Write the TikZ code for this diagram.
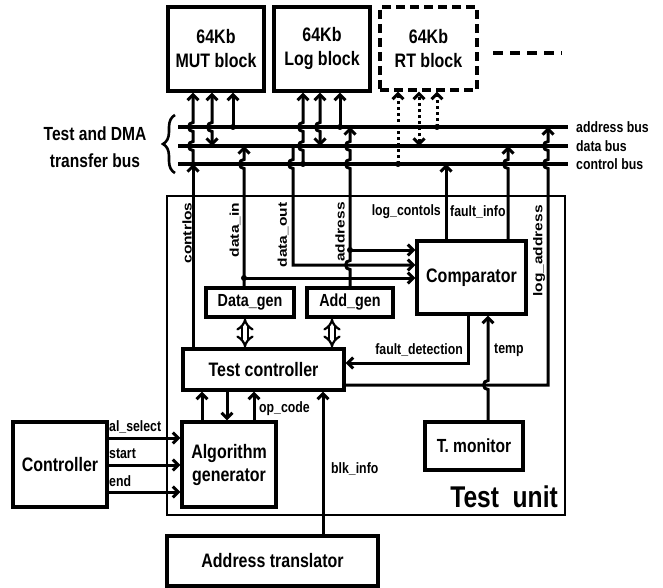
\documentclass[tikz,border=0pt]{standalone}
\usepackage{fontspec}
\setmainfont{Liberation Sans}[FakeStretch=0.82]
\newfontfamily\plainsans{Liberation Sans}
\usetikzlibrary{arrows.meta,decorations.pathreplacing}

% hops where a wire crosses a bus without joining it
\newcommand{\hopup}[2]{-- (#1,#2+4.5) arc[start angle=90,end angle=270,radius=4.5]}
\newcommand{\hopdn}[2]{-- (#1,#2-4.5) arc[start angle=270,end angle=90,radius=4.5]}
\newcommand{\sq}[1]{\scalebox{1}[0.82]{#1}}

\begin{document}
\begin{tikzpicture}[x=1pt,y=-1pt,
    box/.style={draw, fill=white, line width=3.2, inner sep=0, align=center,
      font=\bfseries\fontsize{19.5}{24}\selectfont},
    sbox/.style={box, font=\bfseries\fontsize{17.5}{20}\selectfont},
    bus/.style={line width=4.2},
    wire/.style={line width=3},
    dotwire/.style={wire, dash pattern=on 3pt off 3pt},
    dblarrow/.style={line width=2.2, double, double distance=3.5, {Implies}-{Implies}},
    lbl/.style={font=\bfseries\fontsize{15}{17}\selectfont, inner sep=0},
    rlbl/.style={font=\plainsans\bfseries\fontsize{15.5}{17}\selectfont, inner sep=0, rotate=90},
    >={Straight Barb[length=5.5pt,width=11pt]}]
  \useasboundingbox (0,0) rectangle (663,588);

  % --- test unit frame ---
  \node[draw, line width=2.8, minimum width=398, minimum height=319, inner sep=0] (tu) at (366,355.5) {};
  \node[font=\bfseries\fontsize{30}{32}\selectfont, anchor=east, inner sep=0] (tulbl) at (558,497) {Test\ \ unit};

  % --- memory blocks ---
  \node[box, minimum width=96, minimum height=84] (mut) at (216,49) {64Kb\\MUT block};
  \node[box, minimum width=96, minimum height=84] (log) at (322,49) {64Kb\\Log block};
  \node[box, dash pattern=on 9pt off 5pt, minimum width=97, minimum height=83] (rt) at (428.5,48.5) {64Kb\\RT block};
  \draw[line width=3.2, dash pattern=on 10pt off 7pt] (493,53) -- (562,53);

  % --- buses ---
  \draw[bus] (178,127) -- (568,127);
  \draw[bus] (178,146) -- (568,146);
  \draw[bus] (178,164) -- (568,164);
  \node[lbl, anchor=west] (abus) at (576,127) {address bus};
  \node[lbl, anchor=west] (dbus) at (576,146) {data bus};
  \node[lbl, anchor=west] (cbus) at (576,164) {control bus};
  \draw[line width=2.6, decorate, decoration={brace, amplitude=12pt}] (175,173) -- (175,115);
  \node[align=center, inner sep=0, font=\bfseries\fontsize{19}{27}\selectfont] (tdma) at (95,147) {Test and DMA\\transfer bus};

  % --- inner blocks ---
  \node[box, minimum width=109, minimum height=73] (cmp) at (471.5,277.5) {Comparator};
  \node[box, minimum width=161, minimum height=41] (tc) at (263.5,369.5) {Test controller};
  \node[sbox, minimum width=88, minimum height=29] (dgen) at (250,302.5) {Data\_gen};
  \node[sbox, minimum width=86, minimum height=29] (agen) at (350,302.5) {Add\_gen};
  \node[box, font=\bfseries\fontsize{19}{22}\selectfont, minimum width=98, minimum height=48] (tmon) at (474,446) {T. monitor};
  \node[box, font=\bfseries\fontsize{19.5}{23}\selectfont, minimum width=94, minimum height=85] (alg) at (229,464.5) {Algorithm\\generator};
  \node[box, minimum width=94, minimum height=85] (ctrl) at (60,464.5) {Controller};
  \node[box, minimum width=211, minimum height=50] (atr) at (272.5,561) {Address translator};

  % --- bus <-> MUT block ---
  \draw[wire,->] (193,164) \hopup{193}{146} \hopup{193}{127} -- (mut.south -| 193,0);
  \draw[wire,<->] (212,146) \hopup{212}{127} -- (mut.south -| 212,0);
  \fill (233,127) circle (3);
  \draw[wire,->] (233,127) -- (mut.south -| 233,0);

  % --- bus <-> Log block ---
  \fill (303,164) circle (3);
  \draw[wire,->] (303,164) \hopup{303}{146} \hopup{303}{127} -- (log.south -| 303,0);
  \draw[wire,<->] (320,146) \hopup{320}{127} -- (log.south -| 320,0);
  \fill (340,127) circle (3);
  \draw[wire,->] (340,127) -- (log.south -| 340,0);

  % --- bus <-> RT block (dotted) ---
  \fill (398,164) circle (3);
  \draw[dotwire,->] (398,164) -- (rt.south -| 398,0);
  \draw[dotwire,<->] (419,146) -- (rt.south -| 419,0);
  \fill (437,127) circle (3);
  \draw[dotwire,->] (437,127) -- (rt.south -| 437,0);

  % --- test unit to bus ---
  \draw[wire,->] (tc.north -| 193,0) -- (193,164);
  \node[rlbl] (lctl) at (187,233) {\sq{contrlos}};
  \draw[wire,->] (dgen.north -| 244,0) \hopup{244}{164} -- (244,146);
  \node[rlbl] (ldin) at (235,230) {\sq{data\_in}};
  \fill (244,278) circle (3);
  \draw[wire,->] (244,278) -- (cmp.west |- 0,278);
  \draw[wire,->] (293,146) \hopdn{293}{164} -- (293,265) -- (cmp.west |- 0,265);
  \node[rlbl] (ldout) at (283,235) {\sq{data\_out}};
  \draw[wire,->] (agen.north -| 350,0) \hopup{350}{265} \hopup{350}{164} \hopup{350}{146} -- (350,127);
  \node[rlbl] (laddr) at (340,232) {\sq{address}};
  \fill (350,250) circle (3);
  \draw[wire,->] (350,250) -- (cmp.west |- 0,250);

  % --- comparator ---
  \draw[wire,->] (cmp.north -| 446,0) -- (446,164);
  \node[lbl, anchor=east] (llc) at (441,212) {log\_contols};
  \draw[wire,->] (cmp.north -| 508,0) \hopup{508}{164} -- (508,146);
  \node[lbl, anchor=west] (lfi) at (450,212) {fault\_info};
  \draw[wire,->] (tc.east |- 0,385) -- (548,385) \hopup{548}{164} \hopup{548}{146} -- (548,127);
  \node[rlbl] (lladdr) at (539,251) {\sq{log\_address}};
  \draw[wire,->] (cmp.south -| 468,0) -- (468,363) -- (tc.east |- 0,363);
  \node[lbl, anchor=east] (lfd) at (463,350) {fault\_detection};
  \draw[wire,->] (tmon.north -| 488,0) \hopup{488}{385} -- (cmp.south -| 488,0);
  \node[lbl, anchor=west] (ltmp) at (494,350) {temp};

  % --- generators <-> test controller ---
  \draw[dblarrow] (dgen.south -| 245,0) -- (tc.north -| 245,0);
  \draw[dblarrow] (agen.south -| 332,0) -- (tc.north -| 332,0);

  % --- algorithm generator <-> test controller ---
  \draw[wire,->] (alg.north -| 202,0) -- (tc.south -| 202,0);
  \draw[wire,->] (tc.south -| 227,0) -- (alg.north -| 227,0);
  \draw[wire,->] (alg.north -| 254,0) -- (tc.south -| 254,0);
  \node[lbl, anchor=west] (lop) at (259,409) {op\_code};
  \draw[wire,->] (atr.north -| 323,0) -- (tc.south -| 323,0);
  \node[lbl, anchor=west] (lblk) at (331,469) {blk\_info};

  % --- controller -> algorithm generator ---
  \draw[wire,->] (ctrl.east |- 0,438) -- (alg.west |- 0,438);
  \draw[wire,->] (ctrl.east |- 0,465) -- (alg.west |- 0,465);
  \draw[wire,->] (ctrl.east |- 0,492) -- (alg.west |- 0,492);
  \node[lbl, anchor=west] (lals) at (109,427) {al\_select};
  \node[lbl, anchor=west] (lst) at (109,454) {start};
  \node[lbl, anchor=west] (lend) at (109,481) {end};
\end{tikzpicture}
\end{document}
